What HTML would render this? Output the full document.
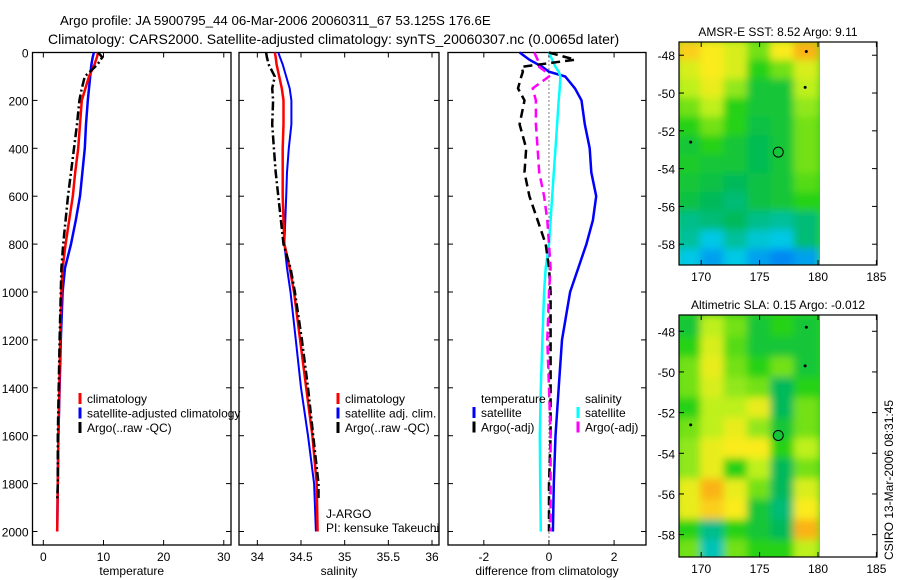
<!DOCTYPE html>
<html><head><meta charset="utf-8"><style>
html,body{margin:0;padding:0;background:#fff;}
svg{display:block;font-family:"Liberation Sans",sans-serif;}
</style></head><body>
<svg id="chart" width="900" height="580" viewBox="0 0 900 580" xmlns="http://www.w3.org/2000/svg">
<defs>
<filter id="blur" x="0" y="0" width="1" height="1"><feGaussianBlur stdDeviation="4"/></filter>
<clipPath id="clipMap1"><rect x="679" y="42" width="141" height="223"/></clipPath>
<clipPath id="clipMap2"><rect x="679" y="315" width="141" height="242"/></clipPath>
</defs>
<text x="60" y="25" font-size="13.3">Argo profile: JA 5900795_44 06-Mar-2006 20060311_67 53.125S 176.6E</text>
<text x="48" y="44" font-size="14">Climatology: CARS2000. Satellite-adjusted climatology: synTS_20060307.nc (0.0065d later)</text>
<g id="plots"></g>
<text transform="translate(893,560) rotate(-90)" font-size="12">CSIRO 13-Mar-2006 08:31:45</text>
</svg>
<script>
// ---- data ----
const depths = [0,20,50,100,150,200,300,400,500,600,700,800,900,1000,1200,1400,1600,1800,2000];
const tempClim = [9.1,8.9,8.5,7.6,7.0,6.4,6.1,5.8,5.3,4.9,4.3,3.7,3.2,3.0,2.8,2.65,2.5,2.4,2.3];
const tempSat  = [8.4,8.2,8.0,7.8,7.6,7.4,7.1,6.9,6.5,6.1,5.4,4.6,3.6,3.2,2.9,2.7,2.5,2.4,2.3];
const argoDepths = [0,20,50,100,150,200,300,400,500,600,700,800,900,1000,1200,1400,1600,1800,1870];
const tempArgo = [9.1,9.8,9.0,6.9,6.4,6.0,5.6,5.1,4.6,4.1,3.7,3.3,3.0,2.9,2.7,2.55,2.4,2.4,2.3];
const salClim = [34.2,34.21,34.22,34.25,34.28,34.3,34.3,34.29,34.29,34.29,34.3,34.31,34.37,34.42,34.49,34.56,34.63,34.68,34.69];
const salSat  = [34.24,34.26,34.29,34.33,34.37,34.39,34.39,34.36,34.34,34.33,34.32,34.31,34.34,34.38,34.44,34.5,34.58,34.65,34.67];
const salArgo = [34.1,34.11,34.13,34.2,34.17,34.18,34.17,34.19,34.21,34.24,34.27,34.3,34.38,34.43,34.51,34.58,34.64,34.7,34.7];
const diffDepths = [0,30,60,80,100,150,200,300,400,500,600,700,800,900,1000,1200,1400,1600,1800,2000];
const dTempSat  = [-0.9,-0.6,-0.2,0.0,0.5,0.8,1.0,1.1,1.25,1.3,1.45,1.35,1.15,0.9,0.65,0.4,0.3,0.2,0.15,0.12];
const dSalSat   = [0.0,0.1,0.2,0.3,0.35,0.33,0.3,0.25,0.2,0.15,0.1,0.05,0.0,-0.1,-0.15,-0.2,-0.25,-0.28,-0.27,-0.25];
const dTempArgo = [0.0,0.8,-0.85,-0.8,-0.85,-0.95,-0.75,-0.9,-0.7,-0.75,-0.6,-0.35,-0.1,0.0,0.05,0.05,0.05,0.05,0.0,0.0];
const dSalArgo  = [-0.45,-0.35,-0.3,-0.1,0.0,-0.5,-0.4,-0.4,-0.35,-0.3,-0.15,-0.05,0.0,0.05,0.0,-0.05,0.0,0.05,0.05,0.05];
const depthTicks = [0,200,400,600,800,1000,1200,1400,1600,1800,2000];
const tempTicks = [0,10,20,30];
const salTicks = [34,34.5,35,35.5,36];
const diffTicks = [-2,0,2];
const lonTicks = [170,175,180,185];
const latTicks = [-48,-50,-52,-54,-56,-58];
const mapLon = [168,170,172,174,176,178];
const mapLat = [-47.3,-48.3,-49.3,-50.3,-51.3,-52.3,-53.3,-54.3,-55.3,-56.3,-57.3,-58.3];
const sstGrid = [
[0.75,0.72,0.68,0.6,0.72,0.78],[0.68,0.72,0.68,0.55,0.6,0.68],[0.65,0.7,0.62,0.5,0.5,0.65],
[0.6,0.65,0.55,0.5,0.5,0.62],[0.55,0.6,0.55,0.48,0.5,0.6],[0.5,0.55,0.5,0.46,0.5,0.6],
[0.52,0.5,0.5,0.46,0.5,0.6],[0.5,0.48,0.45,0.48,0.5,0.58],[0.48,0.45,0.42,0.48,0.5,0.55],
[0.4,0.42,0.45,0.4,0.38,0.42],[0.38,0.3,0.38,0.32,0.3,0.42],[0.3,0.25,0.3,0.25,0.22,0.25]];
const slaGrid = [
[0.5,0.65,0.6,0.5,0.55,0.5],[0.55,0.68,0.58,0.5,0.5,0.5],[0.6,0.7,0.6,0.55,0.6,0.5],
[0.6,0.68,0.62,0.6,0.45,0.55],[0.55,0.65,0.65,0.7,0.45,0.6],[0.6,0.65,0.7,0.62,0.5,0.6],
[0.62,0.7,0.72,0.72,0.55,0.65],[0.62,0.7,0.55,0.65,0.45,0.6],[0.7,0.78,0.7,0.6,0.45,0.68],
[0.7,0.75,0.72,0.5,0.42,0.72],[0.55,0.4,0.55,0.5,0.45,0.78],[0.6,0.35,0.6,0.55,0.55,0.65]];
const argoPos = [176.6,-53.125];
const otherFloats = [[169.1,-52.6],[178.9,-49.7],[179.0,-47.8]];

// ---- helpers ----
const NS="http://www.w3.org/2000/svg";
const root=document.getElementById('plots');
function mk(tag,attrs,parent){const e=document.createElementNS(NS,tag);for(const k in attrs)e.setAttribute(k,attrs[k]);(parent||root).appendChild(e);return e;}
const yTop=52.5, yBot=545;
const yD = d => yTop + d*0.2395;

function panel(x0,x1,xmin,xmax,ticks,label,name,showDepth){
  const xs = v => x0 + (v-xmin)/(xmax-xmin)*(x1-x0);
  const g=mk('g',{});
  
  
  const fr=mk('rect',{x:x0,y:yTop,width:x1-x0,height:yBot-yTop,fill:'none',stroke:'#000','stroke-width':1.3},g);
  
  
  depthTicks.forEach(d=>{
    mk('line',{x1:x0,x2:x0+5,y1:yD(d),y2:yD(d),stroke:'#000'},g);
    mk('line',{x1:x1-5,x2:x1,y1:yD(d),y2:yD(d),stroke:'#000'},g);
    if(showDepth){const t=mk('text',{x:x0-4,y:yD(d)+5,'font-size':12,'text-anchor':'end'},g);t.textContent=d;
      
      }
  });
  ticks.forEach(v=>{
    mk('line',{x1:xs(v),x2:xs(v),y1:yBot,y2:yBot-5,stroke:'#000'},g);
    mk('line',{x1:xs(v),x2:xs(v),y1:yTop,y2:yTop+5,stroke:'#000'},g);
    const t=mk('text',{x:xs(v),y:yBot+16,'font-size':12,'text-anchor':'middle'},g);t.textContent=v;
    
    
  });
  const xl=mk('text',{x:(x0+x1)/2,y:575,'font-size':12,'text-anchor':'middle'},g);xl.textContent=label;
  
  
  return {xs,g};
}
function line(p,vals,ds,color,w,dash,name){
  const pts=vals.map((v,i)=>p.xs(v).toFixed(1)+','+yD(ds[i]).toFixed(1)).join(' ');
  const a={points:pts,fill:'none',stroke:color,'stroke-width':w};
  if(dash)a['stroke-dasharray']=dash;
  const e=mk('polyline',a,p.g);
  
  
}
function legend(g,x,y,items){
  items.forEach((it,i)=>{
    const yy=y+i*14.5;
    mk('line',{x1:x,x2:x,y1:yy-10,y2:yy+1,stroke:it[0],'stroke-width':3},g);
    const t=mk('text',{x:x+7,y:yy,'font-size':12},g);t.textContent=it[1];
    
    
  });
}

// temperature panel
const p1=panel(32.5,231,-1.8,31.2,tempTicks,'temperature','temperature-panel',true);
line(p1,tempSat,depths,'#0000ff',2.5,null,'temp-satellite-line');
line(p1,tempClim,depths,'#ff0000',2.5,null,'temp-climatology-line');
line(p1,tempArgo,argoDepths,'#000',2.5,'9,3,2,3','temp-argo-line');
legend(p1.g,80,403,[['#ff0000','climatology'],['#0000ff','satellite-adjusted climatology'],['#000','Argo(..raw -QC)']]);

// salinity panel
const p2=panel(239,439,33.79,36.08,salTicks,'salinity','salinity-panel',false);
line(p2,salSat,depths,'#0000ff',2,null,'sal-satellite-line');
line(p2,salClim,depths,'#ff0000',2.5,null,'sal-climatology-line');
line(p2,salArgo,argoDepths,'#000',2.5,'9,3,2,3','sal-argo-line');
legend(p2.g,338,403,[['#ff0000','climatology'],['#0000ff','satellite adj. clim.'],['#000','Argo(..raw -QC)']]);
{const t=mk('text',{x:326,y:518,'font-size':12},p2.g);t.textContent='J-ARGO';


const t2=mk('text',{x:326,y:532,'font-size':12},p2.g);t2.textContent='PI: kensuke Takeuchi';

}

// difference panel
const p3=panel(448,646,-3.1,2.98,diffTicks,'difference from climatology','difference-panel',false);
mk('line',{x1:p3.xs(0),x2:p3.xs(0),y1:yTop,y2:yBot,stroke:'#000','stroke-dasharray':'1,3'},p3.g);
line(p3,dTempSat,diffDepths,'#0000ff',2.5,null,'diff-temp-satellite-line');
line(p3,dSalSat,diffDepths,'#00ffff',2.5,null,'diff-sal-satellite-line');
line(p3,dTempArgo,diffDepths,'#000',2.5,'9,5','diff-temp-argo-line');
line(p3,dSalArgo,diffDepths,'#ff00ff',2.5,'9,5','diff-sal-argo-line');
{const t=mk('text',{x:481,y:403,'font-size':12},p3.g);t.textContent='temperature';


const t2=mk('text',{x:585,y:403,'font-size':12},p3.g);t2.textContent='salinity';

}
legend(p3.g,474,417,[['#0000ff','satellite'],['#000','Argo(-adj)']]);
legend(p3.g,578,417,[['#00ffff','satellite'],['#ff00ff','Argo(-adj)']]);

// maps
function cmap(v){
  const stops=[[0.15,[0,80,255]],[0.3,[0,200,230]],[0.45,[0,185,90]],[0.55,[40,210,20]],[0.65,[190,240,30]],[0.72,[250,235,30]],[0.8,[250,160,20]],[0.9,[220,60,0]]];
  if(v<=stops[0][0])return 'rgb('+stops[0][1]+')';
  for(let i=1;i<stops.length;i++){if(v<=stops[i][0]){const a=stops[i-1],b=stops[i];const t=(v-a[0])/(b[0]-a[0]);
    return 'rgb('+a[1].map((c,k)=>Math.round(c+(b[1][k]-c)*t)).join(',')+')';}}
  return 'rgb('+stops[stops.length-1][1]+')';
}
function map(y0,y1,latTopV,latBotV,grid,title,name,clip,argoFill){
  const lonX=v=>679+(v-168.1)*11.68;
  const latY=v=>y0+(v-latTopV)/(latBotV-latTopV)*(y1-y0);
  const g=mk('g',{});
  
  
  const ig=mk('g',{'clip-path':'url(#'+clip+')'},g);
  const bg=mk('g',{filter:'url(#blur)'},ig);
  mk('rect',{x:670,y:y0-10,width:160,height:y1-y0+20,fill:cmap(0.55)},bg);
  grid.forEach((row,r)=>row.forEach((v,c)=>{
    const x=lonX(mapLon[c]),y=latY(mapLat[r]);
    const cell=mk('rect',{x:x-1,y:y-1,width:lonX(mapLon[c]+2)-x+2,height:latY(mapLat[r]-1)-y+2,fill:cmap(v)},bg);
    
    
  }));
  mk('rect',{x:679,y:y0,width:198,height:y1-y0,fill:'none',stroke:'#000','stroke-width':1.2},g);
  lonTicks.forEach(v=>{
    mk('line',{x1:lonX(v),x2:lonX(v),y1:y1,y2:y1-5,stroke:'#000'},g);
    mk('line',{x1:lonX(v),x2:lonX(v),y1:y0,y2:y0+5,stroke:'#000'},g);
    const t=mk('text',{x:lonX(v),y:y1+16,'font-size':12,'text-anchor':'middle'},g);t.textContent=v;
    
    
  });
  latTicks.forEach(v=>{
    mk('line',{x1:679,x2:684,y1:latY(v),y2:latY(v),stroke:'#000'},g);
    mk('line',{x1:872,x2:877,y1:latY(v),y2:latY(v),stroke:'#000'},g);
    const t=mk('text',{x:675,y:latY(v)+5,'font-size':12,'text-anchor':'end'},g);t.textContent=v;
    
    
  });
  otherFloats.forEach(p=>{const d=mk('circle',{cx:lonX(p[0]),cy:latY(p[1]),r:1.5,fill:'#000'},g);
    
    });
  const c=mk('circle',{cx:lonX(argoPos[0]),cy:latY(argoPos[1]),r:5,fill:argoFill,stroke:'#000','stroke-width':1},g);
  
  
  const t=mk('text',{x:778,y:y0-6,'font-size':12,'text-anchor':'middle'},g);t.textContent=title;
  
  
}
map(42,265,-47.3,-59.1,sstGrid,'AMSR-E SST: 8.52  Argo: 9.11','sst-map','clipMap1','none');
map(315,557,-47.2,-59.1,slaGrid,'Altimetric SLA: 0.15  Argo: -0.012','sla-map','clipMap2',cmap(0.5));
</script>
</body></html>
